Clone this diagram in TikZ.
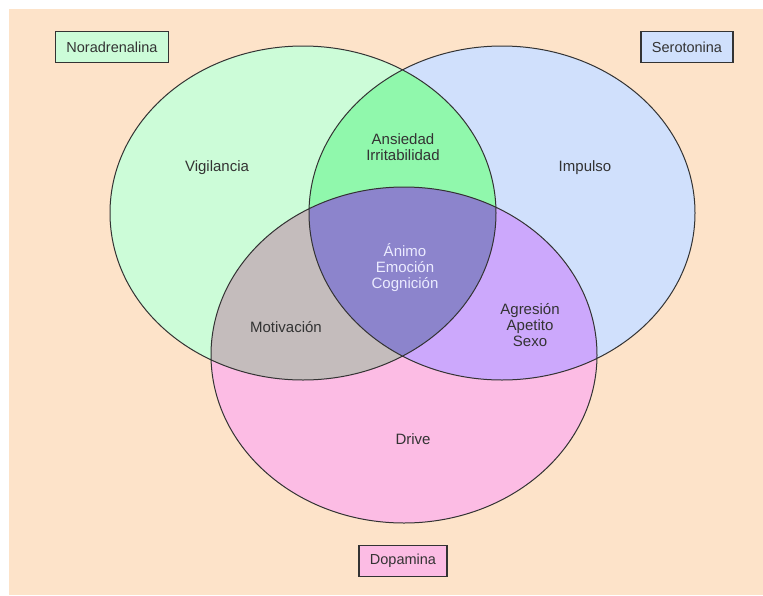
\documentclass[tikz,border=0pt]{standalone}
\usepackage{fontspec}
\setmainfont{Liberation Sans}
\definecolor{bg}{HTML}{FDE3C9}
\definecolor{nafill}{HTML}{CCFCD8}
\definecolor{sefill}{HTML}{D0E0FC}
\definecolor{dafill}{HTML}{FCBCE4}
\definecolor{nasefill}{HTML}{90F8AC}
\definecolor{nadafill}{HTML}{C4BCBC}
\definecolor{sedafill}{HTML}{CCA8FC}
\definecolor{allfill}{HTML}{8C84CC}
\definecolor{ink}{HTML}{333333}
\newcommand{\setNA}{(303,213) ellipse [x radius=193pt, y radius=167pt]}
\newcommand{\setSE}{(502,213) ellipse [x radius=193pt, y radius=167pt]}
\newcommand{\setDA}{(404,355) ellipse [x radius=193pt, y radius=168pt]}

\begin{document}
\begin{tikzpicture}[x=1pt,y=-1pt,
        region/.style={text=ink,align=center,font=\fontsize{15}{16}\selectfont},
        tag/.style={draw=ink,line width=1.3pt,text=ink,minimum height=31pt,
                    inner xsep=11pt,font=\fontsize{14.5}{16}\selectfont}]

    \useasboundingbox (0,0) rectangle (763,595);
    \fill[bg] (9,9) rectangle (763,595);

    \fill[nafill] \setNA;
    \fill[sefill] \setSE;
    \fill[dafill] \setDA;
    \begin{scope}
        \clip \setNA;
        \fill[nasefill] \setSE;
        \fill[nadafill] \setDA;
    \end{scope}
    \begin{scope}
        \clip \setSE;
        \fill[sedafill] \setDA;
        \clip \setDA;
        \fill[allfill] \setNA;
    \end{scope}
    \draw[ink,line width=1pt] \setNA \setSE \setDA;

    \node[tag,fill=nafill] (na) at (112,47) {Noradrenalina};
    \node[tag,fill=sefill] (se) at (687,47) {Serotonina};
    \node[tag,fill=dafill] (da) at (403,561) {Dopamina};

    \node[region] (vig) at (217,168) {Vigilancia};
    \node[region] (ans) at (403,147) {Ansiedad\\Irritabilidad};
    \node[region] (imp) at (585,168) {Impulso};
    \node[region,text=white!92!blue] (ani) at (405,268) {Ánimo\\Emoción\\Cognición};
    \node[region] (mot) at (286,327) {Motivación};
    \node[region] (agr) at (530,325) {Agresión\\Apetito\\Sexo};
    \node[region] (drv) at (413,439) {Drive};
\end{tikzpicture}
\end{document}
